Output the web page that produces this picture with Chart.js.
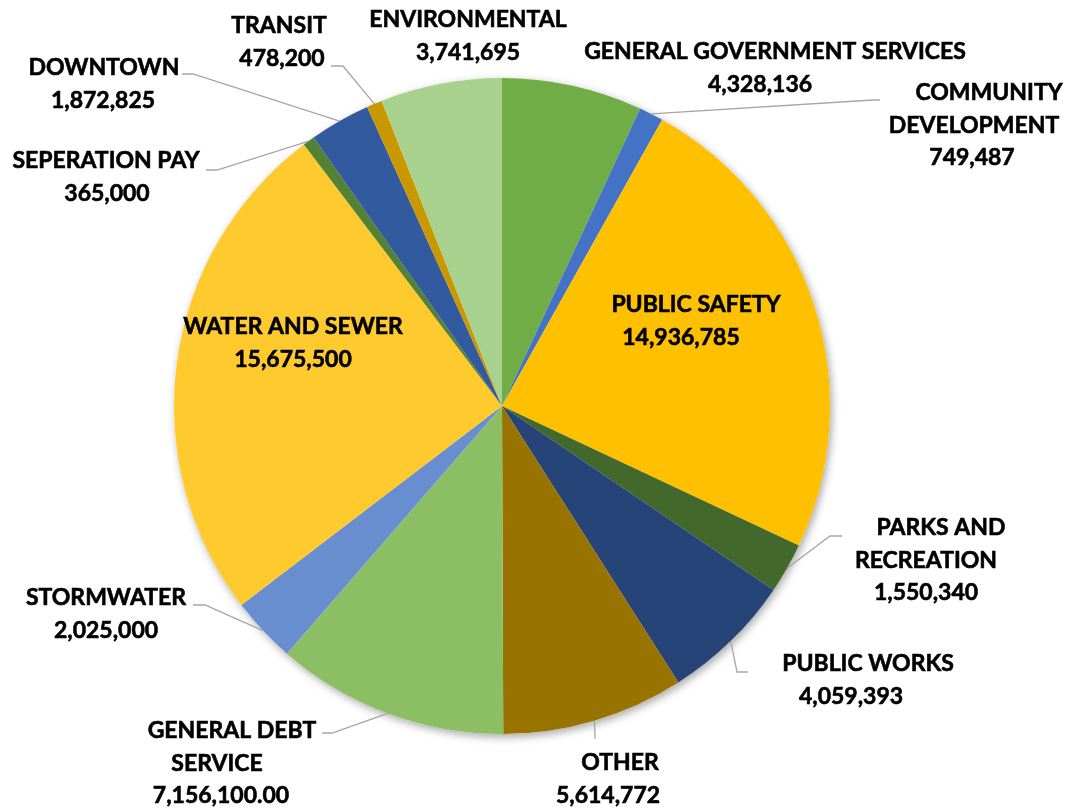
<!DOCTYPE html>
<html lang="en">

<head>
    <meta charset="UTF-8">
    <title>Budget by Department</title>
    <script src="https://cdn.jsdelivr.net/npm/chart.js"></script>
    <style>
        html,
        body {
            margin: 0;
            padding: 0;
            background: #ffffff;
        }

        .grafico {
            width: 1073px;
            height: 809px;
        }
    </style>
</head>

<body>
    <div class="grafico">
        <canvas id="pieChart" width="1073" height="809"></canvas>
    </div>
</body>
<script>

    // departments, wrapped the way they are printed
    const categories = [
        ['GENERAL GOVERNMENT SERVICES'],
        ['COMMUNITY', 'DEVELOPMENT'],
        ['PUBLIC SAFETY'],
        ['PARKS AND', 'RECREATION'],
        ['PUBLIC WORKS'],
        ['OTHER'],
        ['GENERAL DEBT', 'SERVICE'],
        ['STORMWATER'],
        ['WATER AND SEWER'],
        ['SEPERATION PAY'],
        ['DOWNTOWN'],
        ['TRANSIT'],
        ['ENVIRONMENTAL']
    ];
    const amounts = [4328136, 749487, 14936785, 1550340, 4059393, 5614772, 7156100, 2025000, 15675500, 365000, 1872825, 478200, 3741695];
    const decimals = [0, 0, 0, 0, 0, 0, 2, 0, 0, 0, 0, 0, 0];

    const sliceColors = ['#70AD47', '#4472C4', '#FFC000', '#43682B', '#264478', '#997300', '#8CBF64',
        '#698ED0', '#FFCA2E', '#548235', '#315A9F', '#C99700', '#A9D18E'];

    // where each label block sits: x of every line, y of first line, optional leader (elbow + end)
    const labelLayout = [
        { xs: [775, 760], y: 52 },
        { xs: [989, 974, 972], y: 93, leader: [[873, 100], [880, 100]] },
        { xs: [696, 681], y: 305 },
        { xs: [941, 926, 926], y: 528, leader: [[830, 536], [842, 536]] },
        { xs: [868, 851], y: 664, leader: [[737, 672], [748, 672]] },
        { xs: [620, 608], y: 763, leader: [[595, 739], [595, 739]] },
        { xs: [232, 217, 221], y: 731, leader: [[332, 733], [322, 733]] },
        { xs: [106, 106], y: 598, leader: [[205, 605], [193, 605]] },
        { xs: [293, 293], y: 327 },
        { xs: [106, 107], y: 161, leader: [[217, 170], [206, 170]] },
        { xs: [104, 103], y: 68, leader: [[193, 74], [182, 74]] },
        { xs: [279, 282], y: 26, leader: [[343, 66], [331, 66]] },
        { xs: [468, 468], y: 20 }
    ];
    const lineGap = 32.5;

    function formatValue(valor, casas) {
        return valor.toLocaleString('en-US', { minimumFractionDigits: casas, maximumFractionDigits: casas });
    }

    // soft drop shadow under the whole pie
    const sombraPie = {
        id: 'sombraPie',
        beforeDatasetsDraw(chart) {
            const arc = chart.getDatasetMeta(0).data[0];
            if (!arc) return;
            const ctx = chart.ctx;
            ctx.save();
            ctx.shadowColor = 'rgba(0, 0, 0, 0.35)';
            ctx.shadowBlur = 9;
            ctx.shadowOffsetX = 2;
            ctx.shadowOffsetY = 3;
            ctx.fillStyle = '#ffffff';
            ctx.beginPath();
            ctx.arc(arc.x, arc.y, arc.outerRadius, 0, Math.PI * 2);
            ctx.fill();
            ctx.restore();
        }
    };

    // data labels with leader lines from the slice edge
    const rotulos = {
        id: 'rotulos',
        afterDatasetsDraw(chart) {
            const ctx = chart.ctx;
            const arcos = chart.getDatasetMeta(0).data;
            ctx.save();
            for (let i = 0; i < arcos.length; i++) {
                const arco = arcos[i];
                const pos = labelLayout[i];

                if (pos.leader) {
                    const meio = (arco.startAngle + arco.endAngle) / 2;
                    const sx = arco.x + Math.cos(meio) * arco.outerRadius;
                    const sy = arco.y + Math.sin(meio) * arco.outerRadius;
                    ctx.strokeStyle = '#A6A6A6';
                    ctx.lineWidth = 1.3;
                    ctx.beginPath();
                    ctx.moveTo(sx, sy);
                    ctx.lineTo(pos.leader[0][0], pos.leader[0][1]);
                    ctx.lineTo(pos.leader[1][0], pos.leader[1][1]);
                    ctx.stroke();
                }

                const linhas = categories[i].concat([formatValue(amounts[i], decimals[i])]);
                ctx.fillStyle = '#000000';
                ctx.strokeStyle = '#000000';
                ctx.lineWidth = 0.6;
                ctx.font = 'bold 23px Lato';
                ctx.textAlign = 'center';
                ctx.textBaseline = 'middle';
                for (let j = 0; j < linhas.length; j++) {
                    ctx.fillText(linhas[j], pos.xs[j], pos.y + j * lineGap);
                    ctx.strokeText(linhas[j], pos.xs[j], pos.y + j * lineGap);
                }
            }
            ctx.restore();
        }
    };

    const config = {
        type: 'pie',
        data: {
            labels: categories.map(function (c) { return c.join(' '); }),
            datasets: [{
                data: amounts,
                backgroundColor: sliceColors,
                borderWidth: 0
            }]
        },
        options: {
            responsive: false,
            animation: false,
            layout: {
                padding: { left: 174, right: 243, top: 78, bottom: 75 }
            },
            plugins: {
                legend: { display: false },
                tooltip: { enabled: false }
            }
        },
        plugins: [sombraPie, rotulos]
    };

    let myChart = new Chart(document.getElementById('pieChart'), config);
</script>

</html>
